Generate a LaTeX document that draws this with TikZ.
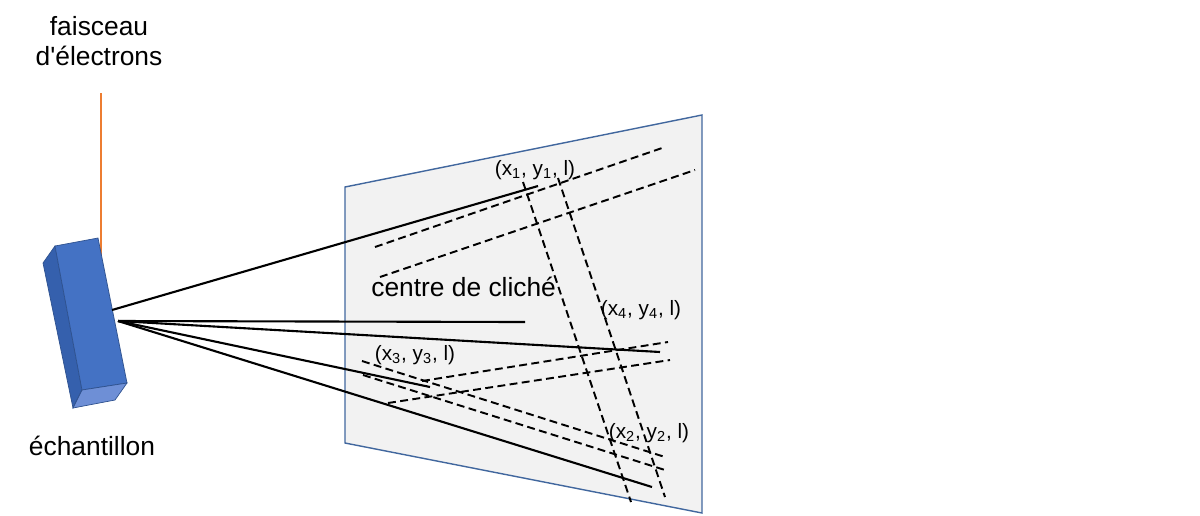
\documentclass[tikz,border=0pt]{standalone}
\usepackage{fontspec}
\setmainfont{Liberation Sans}
\usetikzlibrary{calc}
\definecolor{platefill}{HTML}{F2F2F2}
\definecolor{plateedge}{HTML}{41679E}
\definecolor{boxfront}{HTML}{4472C4}
\definecolor{boxside}{HTML}{3560AD}
\definecolor{boxbottom}{HTML}{6E8FD6}
\definecolor{boxedge}{HTML}{2F528F}
\definecolor{beamcol}{HTML}{ED7D31}
\tikzset{
ray/.style={line width=1.2pt,draw=black},
trace/.style={line width=1.1pt,draw=black,dash pattern=on 4.5pt off 2.5pt},
plate/.style={fill=platefill,draw=plateedge,line width=0.8pt},
face/.style={draw=boxedge,line width=0.4pt},
caption/.style={font=\fontsize{15}{18}\selectfont,inner sep=0pt},
spotlabel/.style={font=\fontsize{11.8}{14}\selectfont,inner sep=0pt},
}

\begin{document}
\begin{tikzpicture}[x=0.02cm,y=-0.02cm]
\useasboundingbox (0,0) rectangle (1200,515);
% plaque
\draw[plate] (345,187) -- (702,115) -- (702,513) -- (345,443) -- cycle;
% faisceau
\coordinate (gun) at (101,93);
\coordinate (hit) at (101,256);
\draw[beamcol,line width=1.2pt] (gun) -- (hit);
% echantillon
\filldraw[face,fill=boxside] (43,263) -- (55,246) -- (82,390) -- (73,408) -- cycle;
\filldraw[face,fill=boxfront] (55,246) -- (98,238) -- (127,383) -- (82,390) -- cycle;
\filldraw[face,fill=boxbottom] (82,390) -- (127,383) -- (115,400) -- (73,408) -- cycle;
% rayons diffractes
\coordinate (src) at (112,310);
\coordinate (org) at (118,321);
\coordinate (r1) at (538,186);
\coordinate (r2) at (525,322);
\coordinate (r3) at (660,352);
\coordinate (r4) at (430,387);
\coordinate (r5) at (652,487);
\draw[ray] (src) -- (r1);
\foreach \r in {r2,r3,r4,r5}
  \draw[ray] (org) -- (\r);
% lignes de Kikuchi
\coordinate (k1a) at (375,247); \coordinate (k1b) at (665,147);
\coordinate (k2a) at (380,277); \coordinate (k2b) at (695,170);
\coordinate (k3a) at (523,182); \coordinate (k3b) at (631,502);
\coordinate (k4a) at (558,178); \coordinate (k4b) at (665,497);
\coordinate (k5a) at (422,381); \coordinate (k5b) at (668,342);
\coordinate (k6a) at (388,403); \coordinate (k6b) at (670,360);
\coordinate (k7a) at (362,361); \coordinate (k7b) at (665,457);
\coordinate (k8a) at (363,375); \coordinate (k8b) at (665,470);
\foreach \k in {1,...,8}
  \draw[trace] (k\k a) -- (k\k b);
% textes
\node[caption,anchor=base] (beam1) at (99,35) {faisceau};
\node[caption,anchor=base] (beam2) at (99,65) {d\textquotesingle électrons};
\node[caption,anchor=base] (sample) at (92,455) {échantillon};
\node[caption,anchor=base west] (centre) at (371,296) {centre de cliché};
\node[spotlabel] (p1) at (535,170) {(x\textsubscript{1}, y\textsubscript{1}, l)};
\node[spotlabel] (p4) at (641,310) {(x\textsubscript{4}, y\textsubscript{4}, l)};
\node[spotlabel] (p3) at (415,355) {(x\textsubscript{3}, y\textsubscript{3}, l)};
\node[spotlabel] (p2) at (649,433) {(x\textsubscript{2}, y\textsubscript{2}, l)};
\end{tikzpicture}
\end{document}
